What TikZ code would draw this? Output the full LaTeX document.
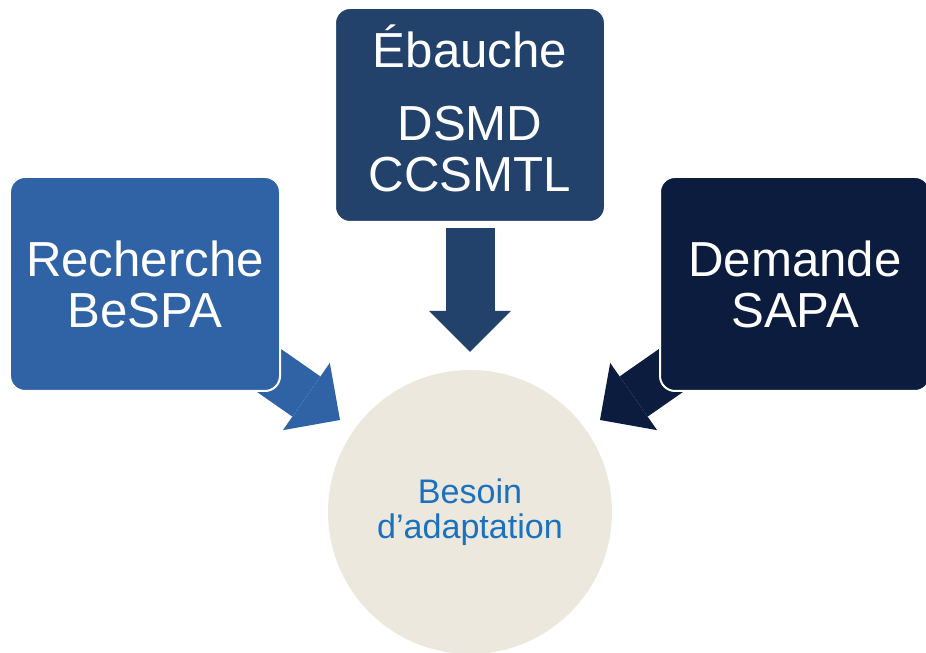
\documentclass[tikz,border=0pt]{standalone}
\usepackage{fontspec}
\setmainfont{Liberation Sans}
\usepackage{xcolor}
\usetikzlibrary{arrows.meta,backgrounds}
\definecolor{Lblue}{HTML}{3063A5}
\definecolor{Tblue}{HTML}{22416B}
\definecolor{Rblue}{HTML}{0B1C3E}
\definecolor{sand}{HTML}{EDE8DD}
\definecolor{txtblue}{HTML}{1A72BF}
\tikzset{
  box/.style={rectangle, rounded corners=0.3cm, draw=white, line width=0.04cm, text=white, align=center, font=\fontsize{28}{29}\selectfont, minimum width=5.4cm, minimum height=4.28cm},
  Lbox/.style={box, fill=Lblue},
  Tbox/.style={box, fill=Tblue, text depth=7.4pt},
  Rbox/.style={box, fill=Rblue},
  need/.style={circle, fill=sand, minimum size=5.68cm, text=txtblue, align=center, font=\fontsize{19.4}{20}\selectfont},
  bigarr/.style={line width=0.98cm, -{Triangle[width=1.64cm, length=0.82cm, line width=0pt]}}
}

\begin{document}
\begin{tikzpicture}
        \useasboundingbox (0,0) rectangle (18.52,13.06);
        \node[Lbox] (recherche) at (2.9,7.38) {Recherche\\BeSPA};
        \node[Tbox] (ebauche) at (9.4,10.76) {\'Ebauche\\[12.5pt]DSMD\\CCSMTL};
        \node[Rbox] (demande) at (15.9,7.38) {Demande\\SAPA};
        \node[need] (besoin) at (9.4,2.82) {Besoin\\d’adaptation};
        \coordinate (Dtail) at (9.4,8.5);
        \coordinate (Ltip) at (6.8,4.66);
        \coordinate (Dtip) at (9.4,6.02);
        \coordinate (Rtip) at (12.0,4.66);
        \begin{pgfonlayer}{background}
        \draw[bigarr, Lblue] (recherche.center) -- (Ltip);
        \draw[bigarr, Tblue] (Dtail) -- (Dtip);
        \draw[bigarr, Rblue] (demande.center) -- (Rtip);
        \end{pgfonlayer}
      \end{tikzpicture}
\end{document}
